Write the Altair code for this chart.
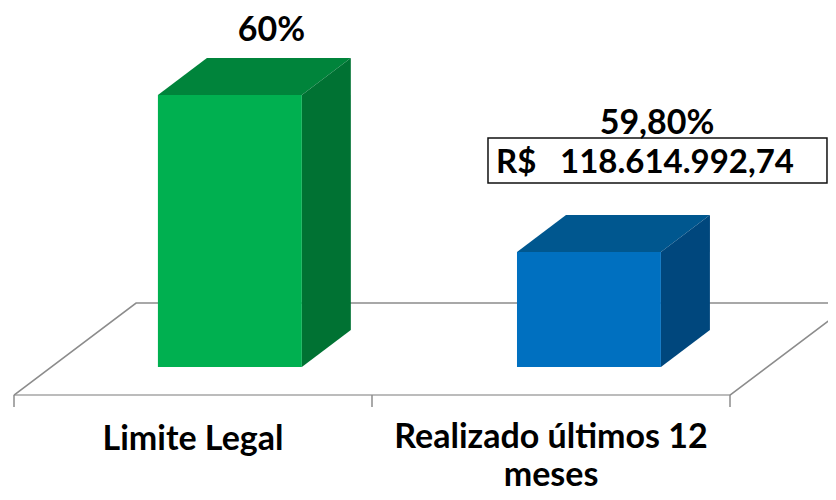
import altair as alt
import pandas as pd

categories = ["Limite Legal", "Realizado últimos 12\nmeses"]
percent_values = [60.0, 59.8]
percent_labels = ["60%", "59,80%"]
amount_currency = "R$"
amount_value = "118.614.992,74"
front_colors = ["#00B050", "#0070C0"]
top_colors = ["#00843B", "#00578F"]
side_colors = ["#007233", "#00477D"]

# Axis frame expressed in chart units (category index, percent)
Y_BASE = 59.6535
Y_FLOOR_FRONT = 59.6178
Y_FLOOR_BACK = 59.7350
Y_DEPTH = 0.0471
X_DEPTH = 0.1369
BAR_START = 0.402
BAR_WIDTH = 0.402
FLOOR_SKEW = 0.341
FONT = "Lato"
FSIZE = 34

X = alt.X("x:Q", scale=alt.Scale(domain=[-0.01676, 2.27374], nice=False, zero=False), axis=None)
Y = alt.Y("y:Q", scale=alt.Scale(domain=[59.49427, 60.11083], nice=False, zero=False), axis=None)
Y2 = alt.Y2("y2:Q")

front, faces = [], []
for i, (v, fc, tc, sc) in enumerate(zip(percent_values, front_colors, top_colors, side_colors)):
    l = i + BAR_START + (0.003 if i else 0)
    r = l + BAR_WIDTH
    front.append(dict(x=l, x2=r, y=v, y2=Y_BASE, c=fc))
    k = f"top{i}"
    for px, lo, hi in [(l, v, v), (l + X_DEPTH, v, v + Y_DEPTH), (r, v, v + Y_DEPTH), (r + X_DEPTH, v + Y_DEPTH, v + Y_DEPTH)]:
        faces.append(dict(x=px, y=lo, y2=hi, k=k, c=tc))
    k = f"side{i}"
    for px, lo, hi in [(r, Y_BASE, v), (r + X_DEPTH, Y_BASE + Y_DEPTH, v + Y_DEPTH)]:
        faces.append(dict(x=px, y=lo, y2=hi, k=k, c=sc))

floor = pd.DataFrame([
    dict(x=0, y=Y_FLOOR_FRONT, o=0, k="a", c="#A6A6A6"),
    dict(x=2, y=Y_FLOOR_FRONT, o=1, k="a", c="#A6A6A6"),
    dict(x=0, y=Y_FLOOR_FRONT, o=0, k="b", c="#8C8C8C"),
    dict(x=FLOOR_SKEW, y=Y_FLOOR_BACK, o=1, k="b", c="#8C8C8C"),
    dict(x=2 + FLOOR_SKEW, y=Y_FLOOR_BACK, o=2, k="b", c="#8C8C8C"),
    dict(x=2, y=Y_FLOOR_FRONT, o=3, k="b", c="#8C8C8C"),
])

floor_layer = alt.Chart(floor).mark_line(strokeWidth=1.6, clip=True).encode(
    x=X, y=Y, detail="k:N", order="o:Q", color=alt.Color("c:N", scale=None))
tick_layer = alt.Chart(pd.DataFrame({"x": [0, 1, 2], "y": [Y_FLOOR_FRONT] * 3, "y2": [Y_FLOOR_FRONT - 0.0153] * 3})).mark_rule(
    color="#8C8C8C", strokeWidth=1.5).encode(x=X, y=Y, y2=Y2)
face_layer = alt.Chart(pd.DataFrame(faces)).mark_area(interpolate="linear", clip=True).encode(
    x=X, y=Y, y2=Y2, detail="k:N", color=alt.Color("c:N", scale=None))
front_layer = alt.Chart(pd.DataFrame(front)).mark_rect().encode(
    x=X, x2=alt.X2("x2:Q"), y=Y, y2=Y2, color=alt.Color("c:N", scale=None))

box = alt.Chart(pd.DataFrame([dict(x=1.3240, x2=2.2709, y=59.9452, y2=59.8879)])).mark_rect(
    fill="white", stroke="#111111", strokeWidth=1.5).encode(x=X, x2=alt.X2("x2:Q"), y=Y, y2=Y2)

texts = pd.DataFrame([
    dict(x=0.7190, y=60.0816, t=percent_labels[0]),
    dict(x=1.7961, y=59.9631, t=percent_labels[1]),
    dict(x=0.5, y=59.5605, t=categories[0]),
])
text_layer = alt.Chart(texts).mark_text(font=FONT, fontWeight="bold", fontSize=FSIZE, color="#000000", baseline="middle").encode(
    x=X, y=Y, text="t:N")
wrapped = pd.DataFrame([dict(x=1.5, y=59.5503, t=categories[1])])
wrapped_layer = alt.Chart(wrapped).mark_text(font=FONT, fontWeight="bold", fontSize=FSIZE, color="#000000", baseline="alphabetic",
    lineBreak="\n", lineHeight=38).encode(x=X, y=Y, text="t:N")
amount = pd.DataFrame([
    dict(x=1.3464, y=59.9134, t=amount_currency),
    dict(x=1.5251, y=59.9134, t=amount_value),
])
amount_layer = alt.Chart(amount).mark_text(font=FONT, fontWeight="bold", fontSize=33, color="#000000", baseline="middle", align="left").encode(
    x=X, y=Y, text="t:N")

chart = alt.layer(floor_layer, tick_layer, face_layer, front_layer, box, text_layer, wrapped_layer, amount_layer).properties(
    width=820, height=484, padding=0, autosize=alt.AutoSizeParams(type="none")
).configure_view(stroke=None)

chart.save("out.html", embed_options={"renderer": "svg", "actions": False})
